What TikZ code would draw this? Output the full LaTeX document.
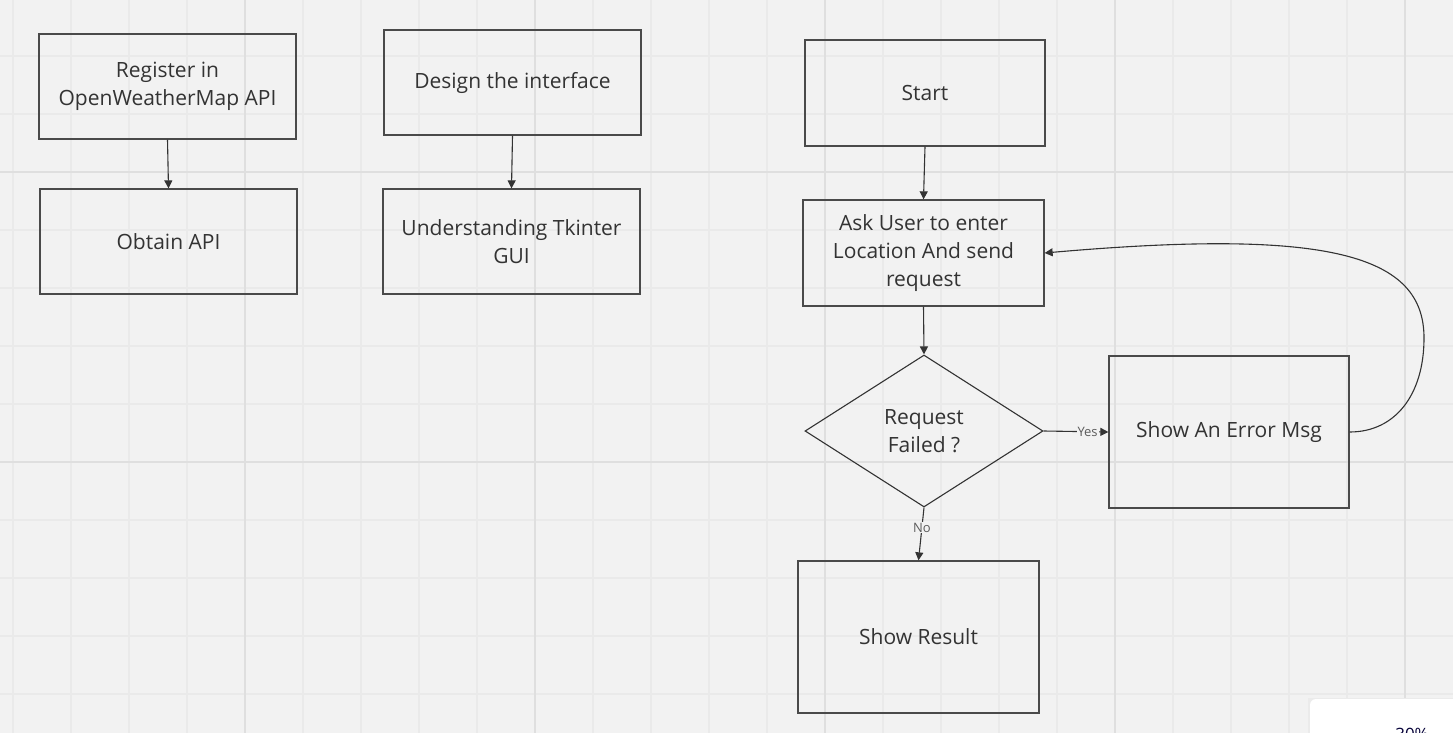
\documentclass[tikz,border=0pt]{standalone}
\usepackage{fontspec}
\setmainfont{Open Sans}
\usetikzlibrary{shapes.geometric,arrows.meta}
\definecolor{bg}{HTML}{F2F2F2}
\definecolor{gridminor}{HTML}{EAEAEA}
\definecolor{gridmajor}{HTML}{DFDFDF}
\definecolor{ink}{HTML}{333333}
\definecolor{boxline}{HTML}{4A4A4A}
\definecolor{navy}{HTML}{050038}
\tikzset{
  procbox/.style={draw=boxline, line width=1.3pt, minimum width=#1, align=center, text=ink,
    font=\fontsize{21}{28}\selectfont, inner sep=0pt},
  procbox/.default={257pt},
  decision/.style={draw=ink, line width=1.1pt, diamond, aspect=1.566, minimum width=238pt,
    minimum height=152pt, inner sep=0pt, align=center, text=ink, font=\fontsize{21}{28}\selectfont},
  conn/.style={draw=ink, line width=1.1pt, -{Triangle[length=8pt,width=8pt]}},
  lbl/.style={font=\fontsize{13}{15}\selectfont, text=ink!80, fill=bg, inner sep=1pt}
}
\begin{document}
\begin{tikzpicture}[x=1pt,y=-1pt]
\useasboundingbox (0,0) rectangle (1453,733);
\fill[bg] (0,0) rectangle (1453,733);
% grid
\foreach \i in {-4,...,20} {
  \pgfmathsetmacro{\gx}{245+58*\i}
  \draw[gridminor, line width=1.2pt] (\gx,0) -- (\gx,733);
}
\foreach \i in {-8,...,4} {
  \pgfmathsetmacro{\gy}{462+58*\i}
  \draw[gridminor, line width=1.2pt] (0,\gy) -- (1453,\gy);
}
\foreach \gx in {245,535,825,1115,1405} \draw[gridmajor, line width=1.5pt] (\gx,0) -- (\gx,733);
\foreach \gy in {172,462} \draw[gridmajor, line width=1.5pt] (0,\gy) -- (1453,\gy);

% nodes
\node[procbox, minimum height=105pt] (reg) at (167.5,86.5) {Register in\\OpenWeatherMap API};
\node[procbox, minimum height=105pt] (obt) at (168.5,241.5) {Obtain API};
\node[procbox, minimum height=105pt] (des) at (512.5,82.5) {Design the interface};
\node[procbox, minimum height=105pt] (tk) at (511.5,241.5) {Understanding Tkinter\\GUI};
\node[procbox=240pt, minimum height=106pt] (start) at (925,93) {Start};
\node[procbox=241pt, minimum height=106pt] (ask) at (923.5,253) {Ask User to enter\\Location And send\\request};
\node[decision] (dec) at (924,431) {Request\\Failed ?};
\node[procbox=240pt, minimum height=152pt] (err) at (1229,432) {Show An Error Msg};
\node[procbox=241pt, minimum height=152pt] (res) at (918.5,637) {Show Result};

% connectors
\draw[conn] (reg.south) -- (obt.north);
\draw[conn] (des.south) -- (tk.north);
\draw[conn] (start.south) -- (ask.north);
\draw[conn] (ask.south) -- (dec.north);
\draw[conn] (dec.south) -- node[lbl, pos=0.38] {No} (res.north);
\draw[conn] (dec.east) -- node[lbl, pos=0.68] {Yes} (err.west);
\coordinate (loop) at (1424,338);
\draw[conn] (err.east) .. controls (1395,432) and (1424,395) .. (loop)
  .. controls (1424,255) and (1330,228) .. (ask.east);

% zoom panel (cut off at the lower edge, as in the reference)
\begin{scope}
\clip (0,0) rectangle (1453,733);
\fill[black!8] (1308,698) rectangle (1453,740);
\fill[white, rounded corners=6pt] (1310,699) rectangle (1470,760);
\node[font=\fontsize{17}{20}\selectfont, text=navy, anchor=north] (zoomtxt) at (1412,725) {30\%};
\end{scope}
\end{tikzpicture}
\end{document}
